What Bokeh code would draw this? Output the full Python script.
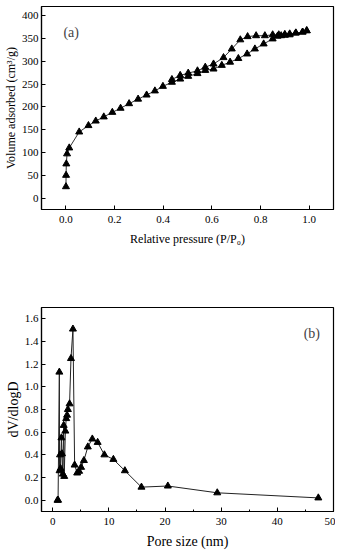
from bokeh.plotting import figure
from bokeh.layouts import column
from bokeh.models import Label, SingleIntervalTicker, Range1d, NumeralTickFormatter
from bokeh.embed import file_html
from bokeh.resources import INLINE

# (a) N2 isotherm
ads_x = [0.0005, 0.001, 0.002, 0.005, 0.014, 0.055, 0.093, 0.123, 0.156, 0.191, 0.225, 0.26, 0.297,
         0.332, 0.366, 0.399, 0.436, 0.47, 0.503, 0.541, 0.573, 0.607, 0.641, 0.675, 0.709, 0.745,
         0.777, 0.813, 0.85, 0.87, 0.885, 0.90, 0.92, 0.945, 0.973, 0.99]
ads_y = [25, 50, 75, 97, 110, 145, 159, 169, 178, 188, 197, 207, 217, 226, 235, 245, 254, 261,
         267, 273, 280, 283, 291, 298, 306, 316, 327, 338, 349, 355, 356, 357, 358, 362, 364, 367]
des_x = [0.99, 0.973, 0.945, 0.92, 0.90, 0.875, 0.85, 0.818, 0.782, 0.747, 0.717, 0.682, 0.648,
         0.607, 0.573, 0.541, 0.503, 0.47, 0.436]
des_y = [367, 364, 362, 360, 359, 358, 358, 356, 356, 354, 347, 327, 308, 294, 287, 279, 274, 269, 260]

# (b) pore size distribution
pore_d = [0.85, 0.95, 1.18, 1.22, 1.30, 1.40, 1.55, 1.65, 1.80, 1.95, 2.05, 2.25, 2.40, 2.55, 2.70,
          3.00, 3.25, 3.60, 3.90, 4.35, 4.70, 5.05, 5.55, 6.25, 7.05, 8.0, 9.2, 10.8, 12.85, 15.8,
          20.5, 29.3, 47.3]
dvdlogd = [0.0, 0.0, 1.13, 0.26, 0.40, 0.28, 0.55, 0.41, 0.23, 0.66, 0.21, 0.61, 0.72, 0.75, 0.80,
           0.85, 1.25, 1.51, 0.31, 0.24, 0.255, 0.29, 0.35, 0.47, 0.54, 0.51, 0.40, 0.36, 0.26,
           0.115, 0.125, 0.065, 0.02]

FONT = "Liberation Serif"


def style(p, xlabel, ylabel, label_size, tick_size):
    for ax in (p.xaxis[0], p.yaxis[0]):
        ax.axis_line_color = "black"
        ax.axis_line_width = 1.2
        ax.major_tick_in = 4
        ax.major_tick_out = 0
        ax.minor_tick_in = 2
        ax.minor_tick_out = 0
        ax.major_tick_line_color = "black"
        ax.minor_tick_line_color = None
        ax.major_label_text_font = FONT
        ax.major_label_text_font_size = tick_size
        ax.major_label_text_color = "black"
        ax.axis_label_text_font = FONT
        ax.axis_label_text_font_style = "normal"
        ax.axis_label_text_font_size = label_size
        ax.axis_label_text_color = "black"
    p.xaxis.major_label_standoff = 6
    p.xaxis.axis_label_standoff = 6
    p.yaxis.major_label_standoff = 3
    p.yaxis.axis_label_standoff = 1
    p.xaxis.axis_label = xlabel
    p.yaxis.axis_label = ylabel
    p.grid.visible = False
    p.outline_line_color = "black"
    p.outline_line_width = 1.2
    p.background_fill_color = "white"
    p.border_fill_color = "white"


pa = figure(frame_width=292, frame_height=203, min_border_left=28, min_border_right=4,
            min_border_top=6, min_border_bottom=42, output_backend="svg", toolbar_location=None,
            x_range=Range1d(-0.1, 1.1), y_range=Range1d(-25, 420))
pa.xaxis.ticker = SingleIntervalTicker(interval=0.2, num_minor_ticks=0)
pa.yaxis.ticker = SingleIntervalTicker(interval=50, num_minor_ticks=0)
pa.xaxis.formatter = NumeralTickFormatter(format="0.0")
style(pa, "Relative pressure (P/P\u2080)", "Volume adsorbed (cm\u00b3/g)", "12px", "11px")
pa.line(ads_x, ads_y, line_color="#333333", line_width=1)
pa.line(des_x, des_y, line_color="#333333", line_width=1)
pa.scatter(ads_x, ads_y, marker="triangle", size=7, fill_color="black", line_color="black")
pa.scatter(des_x, des_y, marker="triangle", size=7, fill_color="black", line_color="black")
pa.add_layout(Label(x=-0.01, y=362, text="(a)", text_font=FONT, text_font_size="14px",
                    text_baseline="middle", text_align="left"))

pb = figure(frame_width=292, frame_height=204, min_border_left=28, min_border_right=4,
            min_border_top=56, min_border_bottom=30, output_backend="svg", toolbar_location=None,
            x_range=Range1d(-2, 50), y_range=Range1d(-0.1, 1.7))
pb.xaxis.ticker = SingleIntervalTicker(interval=10, num_minor_ticks=2)
pb.yaxis.ticker = SingleIntervalTicker(interval=0.2, num_minor_ticks=0)
pb.yaxis.formatter = NumeralTickFormatter(format="0.0")
style(pb, "Pore size (nm)", "dV/dlogD", "14px", "11px")
pb.xaxis.minor_tick_line_color = "black"
pb.line(pore_d, dvdlogd, line_color="#222222", line_width=1)
pb.scatter(pore_d, dvdlogd, marker="triangle", size=7, fill_color="black", line_color="black")
pb.add_layout(Label(x=47.6, y=1.47, text="(b)", text_font=FONT, text_font_size="14px",
                    text_baseline="middle", text_align="right"))

layout = column(pa, pb, spacing=0)
open("out.html", "w").write(file_html(layout, INLINE))
